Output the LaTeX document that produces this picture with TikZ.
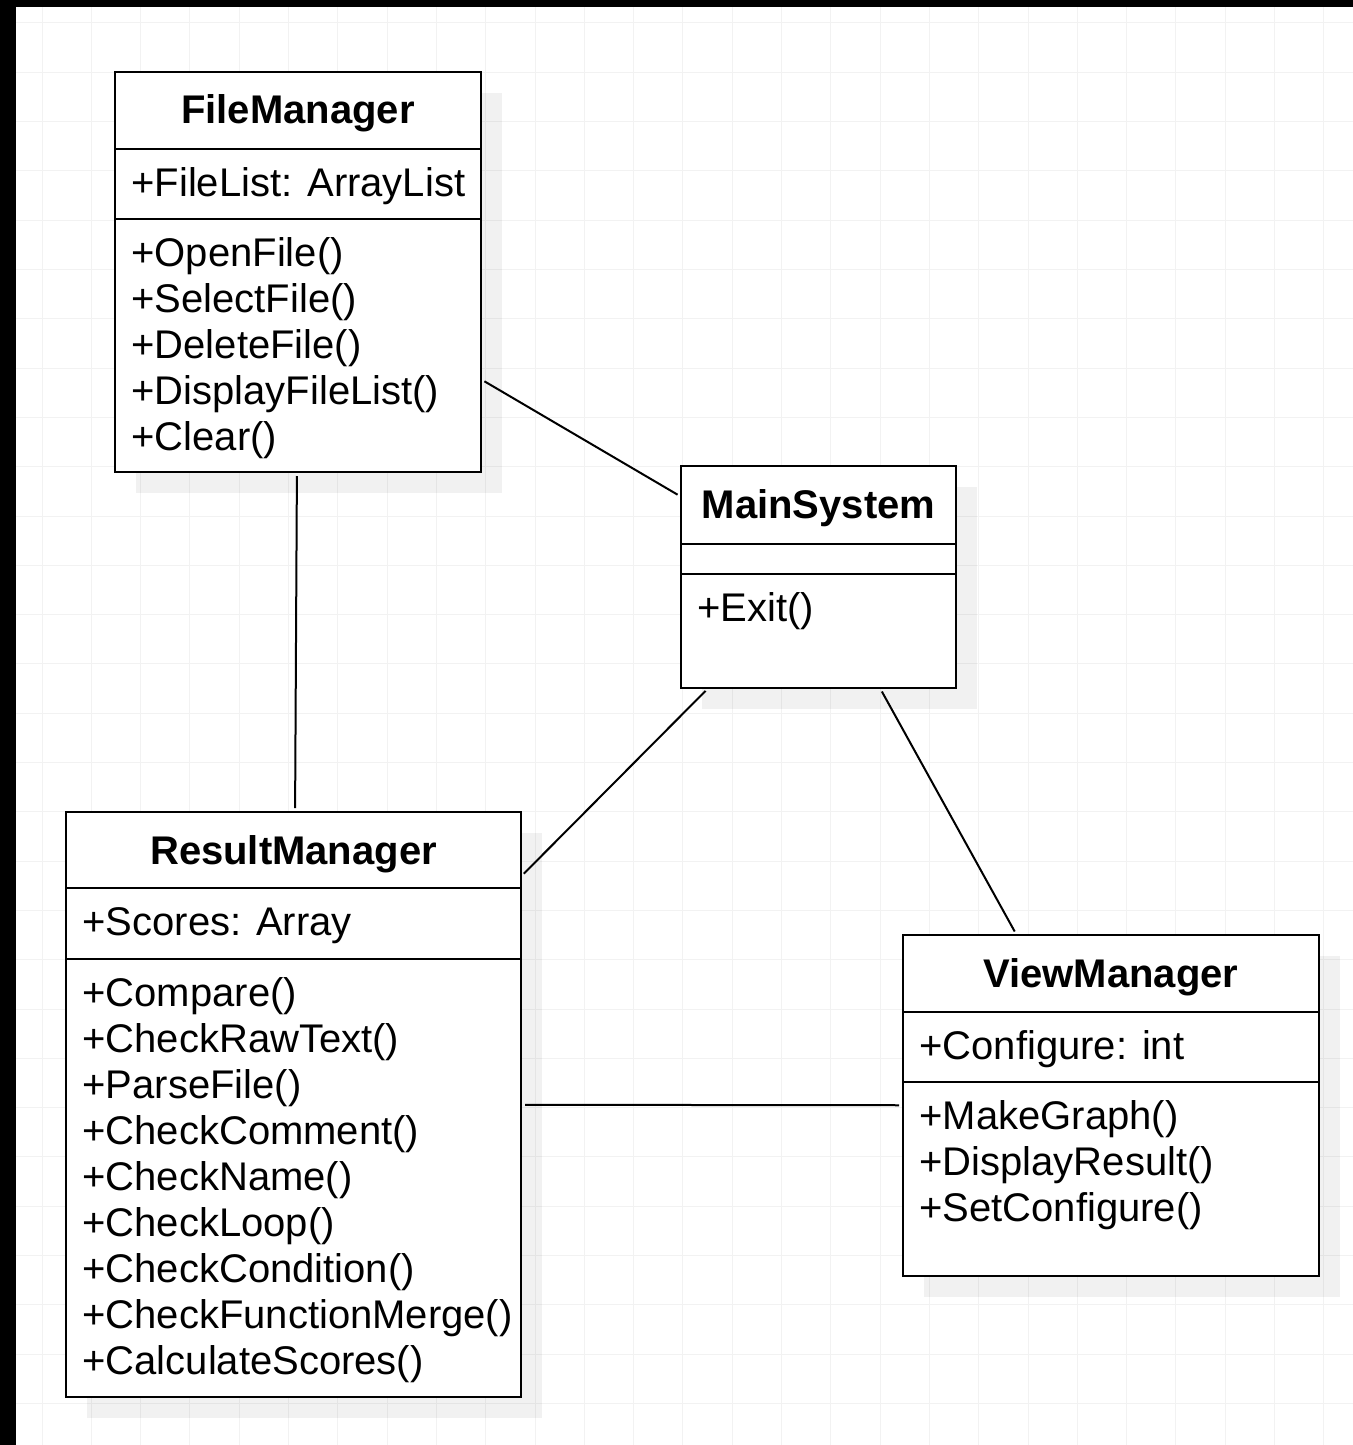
\documentclass[tikz,border=0pt]{standalone}
\usepackage{fontspec}
\setmainfont{Liberation Sans}
\usetikzlibrary{shadows,calc,positioning}
\tikzset{
  classbox/.style  = {draw, rectangle, line width=1.2pt, fill=white, anchor=north west,
                      inner sep=0pt, outer sep=0pt,
                      drop shadow={shadow xshift=10.5pt, shadow yshift=-10.5pt,
                                   fill=black, opacity=0.055}},
  classname/.style = {font=\fontsize{20}{23}\selectfont\bfseries, inner sep=0pt, anchor=base},
  member/.style    = {font=\fontsize{20}{23}\selectfont, inner sep=0pt, anchor=base west},
  divider/.style   = {line width=1.2pt},
  assoc/.style     = {line width=1pt, shorten <=2pt, shorten >=2pt},
  gridline/.style  = {gray!10, line width=0.5pt}
}

\begin{document}
\begin{tikzpicture}[x=0.5pt, y=-0.5pt]
\useasboundingbox (0,0) rectangle (1353,1445);

% canvas with grid and dark frame
\fill[white] (0,0) rectangle (1353,1445);
\foreach \k in {0,...,26}
  \draw[gridline] ({42+49.3*\k},7) -- ({42+49.3*\k},1445);
\foreach \k in {0,...,28}
  \draw[gridline] (16,{23+49.3*\k}) -- (1353,{23+49.3*\k});
\fill[black] (0,0) rectangle (1353,7);
\fill[black] (0,0) rectangle (16,1445);

% FileManager
\node[classbox, minimum width=183pt, minimum height=200pt] (fm) at (115,72) {};
\node[classname] (fm-name) at ($(fm.north)+(0,52)$) {FileManager};
\draw[divider] ($(fm.north west)+(0,77)$) -- ($(fm.north east)+(0,77)$);
\draw[divider] ($(fm.north west)+(0,147)$) -- ($(fm.north east)+(0,147)$);
\node[member] (fm-a1) at ($(fm.north west)+(16,124)$) {+FileList: ArrayList};
\foreach \m [count=\i] in {OpenFile(), SelectFile(), DeleteFile(), DisplayFileList(), Clear()}
  \node[member] (fm-m\i) at ($(fm.north west)+(16,{194+46*(\i-1)})$) {+\m};

% MainSystem
\node[classbox, minimum width=137.5pt, minimum height=111pt] (ms) at (681,466) {};
\node[classname] (ms-name) at ($(ms.north)+(0,52)$) {MainSystem};
\draw[divider] ($(ms.north west)+(0,78)$) -- ($(ms.north east)+(0,78)$);
\draw[divider] ($(ms.north west)+(0,108)$) -- ($(ms.north east)+(0,108)$);
\node[member] (ms-m1) at ($(ms.north west)+(16,155)$) {+Exit()};

% ResultManager
\node[classbox, minimum width=227.5pt, minimum height=292.5pt] (rm) at (66,812) {};
\node[classname] (rm-name) at ($(rm.north)+(0,52)$) {ResultManager};
\draw[divider] ($(rm.north west)+(0,76)$) -- ($(rm.north east)+(0,76)$);
\draw[divider] ($(rm.north west)+(0,147)$) -- ($(rm.north east)+(0,147)$);
\node[member] (rm-a1) at ($(rm.north west)+(16,123)$) {+Scores: Array};
\foreach \m [count=\i] in {Compare(), CheckRawText(), ParseFile(), CheckComment(), CheckName(),
                           CheckLoop(), CheckCondition(), CheckFunctionMerge(), CalculateScores()}
  \node[member] (rm-m\i) at ($(rm.north west)+(16,{194+46*(\i-1)})$) {+\m};

% ViewManager
\node[classbox, minimum width=208pt, minimum height=170.5pt] (vm) at (903,935) {};
\node[classname] (vm-name) at ($(vm.north)+(0,52)$) {ViewManager};
\draw[divider] ($(vm.north west)+(0,77)$) -- ($(vm.north east)+(0,77)$);
\draw[divider] ($(vm.north west)+(0,147)$) -- ($(vm.north east)+(0,147)$);
\node[member] (vm-a1) at ($(vm.north west)+(16,124)$) {+Configure: int};
\foreach \m [count=\i] in {MakeGraph(), DisplayResult(), SetConfigure()}
  \node[member] (vm-m\i) at ($(vm.north west)+(16,{194+46*(\i-1)})$) {+\m};

% associations
\draw[assoc] (fm) -- (ms);
\draw[assoc] (fm) -- (rm);
\draw[assoc] (ms) -- (rm);
\draw[assoc] (ms) -- (vm);
\draw[assoc] (rm) -- (vm);
\end{tikzpicture}
\end{document}
